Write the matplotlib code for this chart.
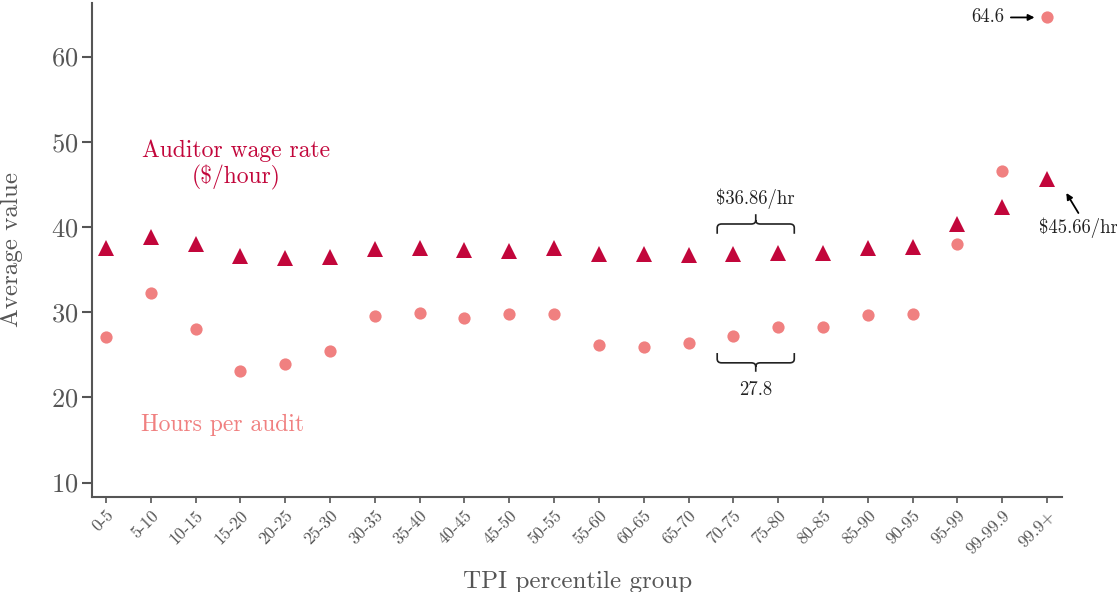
import matplotlib
matplotlib.use('Agg')
import matplotlib.pyplot as plt
from matplotlib.path import Path
from matplotlib.patches import PathPatch

plt.rcParams['font.family'] = 'serif'
plt.rcParams['font.serif'] = ['cmr10']
plt.rcParams['mathtext.fontset'] = 'cm'
plt.rcParams['axes.formatter.use_mathtext'] = True

# data
groups = ['0-5', '5-10', '10-15', '15-20', '20-25', '25-30', '30-35', '35-40',
          '40-45', '45-50', '50-55', '55-60', '60-65', '65-70', '70-75', '75-80',
          '80-85', '85-90', '90-95', '95-99', '99-99.9', '99.9+']
wage_rate = [37.5, 38.8, 38.0, 36.6, 36.4, 36.5, 37.4, 37.5, 37.3, 37.2, 37.5,
             36.8, 36.8, 36.7, 36.8, 36.9, 37.0, 37.5, 37.6, 40.3, 42.4, 45.66]
hours_per_audit = [27.1, 32.25, 28.0, 23.1, 23.9, 25.4, 29.6, 29.9, 29.3, 29.8, 29.8,
                   26.2, 25.9, 26.4, 27.2, 28.3, 28.3, 29.7, 29.8, 38.0, 46.6, 64.6]

wage_col = '#c2063b'
hours_col = '#f08080'
grey = '#555555'
ink = '#222222'

fig = plt.figure(figsize=(11.17, 5.92), dpi=100)
ax = fig.add_axes([0.0824, 0.1605, 0.8686, 0.8345])

x = list(range(len(groups)))
ax.plot(x, hours_per_audit, 'o', color=hours_col, markersize=8.8, markeredgewidth=0)
ax.plot(x, wage_rate, '^', color=wage_col, markersize=11.5, markeredgewidth=0)

ax.set_xlim(-0.31, 21.34)
ax.set_ylim(8.3, 66.3)
ax.set_yticks([10, 20, 30, 40, 50, 60])
ax.set_xticks(x)
ax.set_xticklabels(groups, rotation=45, ha='right', rotation_mode='anchor', fontsize=12.5)

for s in ['top', 'right']:
    ax.spines[s].set_visible(False)
for s in ['left', 'bottom']:
    ax.spines[s].set_color(grey)
    ax.spines[s].set_linewidth(1.5)
ax.tick_params(axis='y', colors=grey, labelsize=19, width=1.5, length=7, pad=3)
ax.tick_params(axis='x', colors=grey, width=1.2, length=4)
ax.set_ylabel('Average value', fontsize=18, color=grey, labelpad=20)
ax.set_xlabel('TPI percentile group', fontsize=18, color=grey, labelpad=10)

# series labels
ax.text(2.9, 47.3, r'Auditor wage rate' + '\n' + r'(\$/hour)', color=wage_col,
        fontsize=17, ha='center', va='center', linespacing=1.2)
ax.text(2.61, 16.7, 'Hours per audit', color=hours_col, fontsize=17, ha='center', va='center')


def brace(x0, x1, y_line, y_end, y_tip, rx=0.1, ry=0.45):
    xm = (x0 + x1) / 2
    se = 1 if y_end > y_line else -1
    st = 1 if y_tip > y_line else -1
    verts = [(x0, y_end), (x0, y_line + se * ry), (x0, y_line), (x0 + rx, y_line),
             (xm - rx, y_line), (xm, y_line), (xm, y_line + st * ry), (xm, y_tip),
             (x1, y_end), (x1, y_line + se * ry), (x1, y_line), (x1 - rx, y_line),
             (xm + rx, y_line), (xm, y_line), (xm, y_line + st * ry)]
    codes = [Path.MOVETO, Path.LINETO, Path.CURVE3, Path.CURVE3,
             Path.LINETO, Path.CURVE3, Path.CURVE3, Path.LINETO,
             Path.MOVETO, Path.LINETO, Path.CURVE3, Path.CURVE3,
             Path.LINETO, Path.CURVE3, Path.CURVE3]
    ax.add_patch(PathPatch(Path(verts, codes), fill=False, lw=1.2, edgecolor=ink))


# averages over 70-80
brace(13.64, 15.36, 40.35, 39.2, 41.5)
ax.text(14.5, 43.3, r'\$36.86/hr', fontsize=13.5, ha='center', va='center', color=ink)
brace(13.64, 15.36, 24.05, 25.2, 23.0)
ax.text(14.5, 20.9, '27.8', fontsize=13.5, ha='center', va='center', color=ink)

# top group callouts
ax.annotate('64.6', xy=(21, 64.6), xytext=(19.67, 64.6), fontsize=13.5, ha='center',
            va='center', color=ink,
            arrowprops=dict(arrowstyle='-|>', color='black', lw=1.3, shrinkA=3, shrinkB=9,
                            mutation_scale=9))
ax.text(20.83, 39.9, r'\$45.66/hr', fontsize=13.5, ha='left', va='center', color=ink,
        clip_on=False)
ax.annotate('', xy=(21.43, 43.99), xytext=(21.7, 41.64), annotation_clip=False,
            arrowprops=dict(arrowstyle='-|>', color='black', lw=1.3, mutation_scale=9,
                            shrinkA=0, shrinkB=0))

fig.savefig('out.png', dpi=100)
